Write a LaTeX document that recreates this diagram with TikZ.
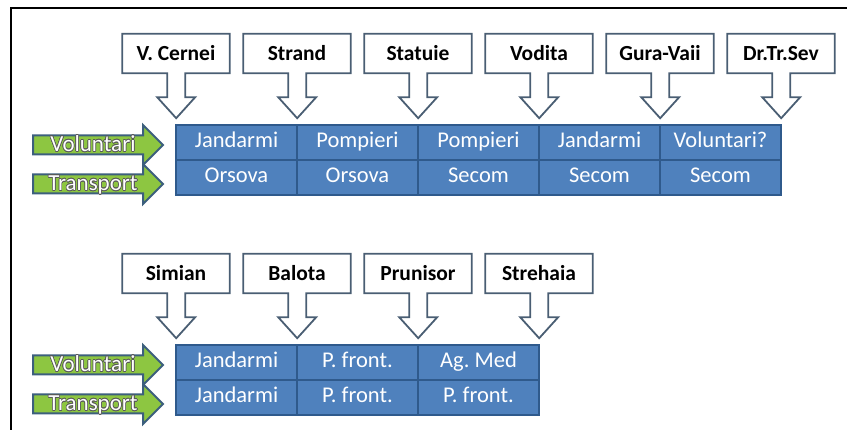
\documentclass[tikz,border=0pt]{standalone}
\usepackage{fontspec}
\setmainfont{Carlito}
\usepackage{contour}
\usepackage{tikz}
\usetikzlibrary{calc}
\definecolor{cellblue}{HTML}{4F81BD}
\definecolor{celledge}{HTML}{2F5A8C}
\definecolor{calledge}{HTML}{4A5E73}
\definecolor{arrgreen}{HTML}{8DC641}
\definecolor{arredge}{HTML}{3C5F7D}
\contourlength{0.6pt}
\frenchspacing

\begin{document}
\begin{tikzpicture}[x=1pt, y=-1pt,
  lbl/.style={minimum width=107pt, minimum height=39pt, inner sep=0pt, font=\fontsize{21.5}{20}\selectfont\bfseries},
  callout/.style={draw=calledge, line width=1.8pt, line join=miter},
  cell/.style={draw=celledge, line width=1.3pt, fill=cellblue, text=white, minimum width=121pt, minimum height=35pt,
    inner sep=0pt, text height=15pt, text depth=4pt, font=\fontsize{22.5}{22}\selectfont},
  garrow/.style={draw=arredge, line width=2pt, fill=arrgreen},
  gtext/.style={text=white, inner sep=0pt, text height=15pt, text depth=4pt, font=\fontsize{23}{22}\selectfont}]
  \useasboundingbox (0,0) rectangle (847,430);
  \draw[line width=2pt] (11,430) -- (11,8) -- (847,8);

  % upper block
  \foreach \lab [count=\i] in {V. Cernei, Strand, Statuie, Vodita, Gura-Vaii, Dr.Tr.Sev} {
    \node[lbl] (t\i) at ({55+121*\i},53.5) {\lab};
    \draw[callout] (t\i.north west) -- (t\i.north east) -- (t\i.south east) -- ++(-44.5,0) -- ++(0,24)
      -- ++(10,0) -- ++(-19,21) -- ++(-19,-21) -- ++(10,0) -- ++(0,-24) -- (t\i.south west) -- cycle;
  }
  \foreach \ra/\rb [count=\i] in {Jandarmi/Orsova, Pompieri/Orsova, Pompieri/Secom, Jandarmi/Secom, Voluntari?/Secom} {
    \node[cell] (a\i) at ({115.5+121*\i},142.5) {\ra};
    \node[cell] (b\i) at ({115.5+121*\i},177.5) {\rb};
  }

  % lower block
  \foreach \lab [count=\i] in {Simian, Balota, Prunisor, Strehaia} {
    \node[lbl] (s\i) at ({55+121*\i},273.5) {\lab};
    \draw[callout] (s\i.north west) -- (s\i.north east) -- (s\i.south east) -- ++(-44.5,0) -- ++(0,24)
      -- ++(10,0) -- ++(-19,21) -- ++(-19,-21) -- ++(10,0) -- ++(0,-24) -- (s\i.south west) -- cycle;
  }
  \foreach \ra/\rb [count=\i] in {Jandarmi/Jandarmi, P. front./P. front., Ag. Med/P. front.} {
    \node[cell] (c\i) at ({115.5+121*\i},362.5) {\ra};
    \node[cell] (d\i) at ({115.5+121*\i},397.5) {\rb};
  }

  % green arrows
  \foreach \y/\lab/\nm in {145/Voluntari/gv1, 184/Transport/gt1, 365/Voluntari/gv2, 404/Transport/gt2} {
    \draw[garrow] (33,{\y-9.5}) -- (143,{\y-9.5}) -- (143,{\y-20}) -- (163,\y) -- (143,{\y+20})
      -- (143,{\y+9.5}) -- (33,{\y+9.5}) -- cycle;
    \node[gtext] (\nm) at (93,{\y+1}) {\contour{gray!70!black}{\lab}};
  }
\end{tikzpicture}
\end{document}
